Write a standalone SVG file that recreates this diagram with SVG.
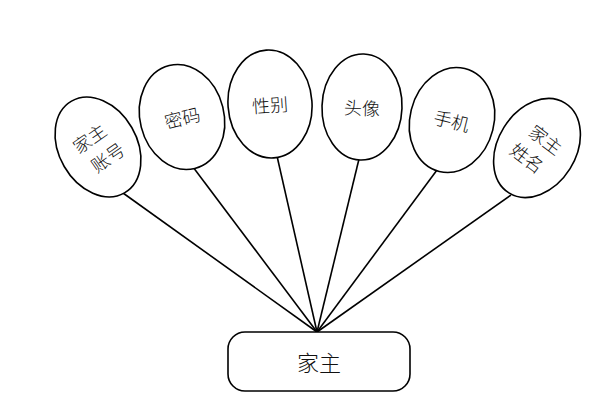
<svg xmlns="http://www.w3.org/2000/svg" width="608" height="411" viewBox="0 0 608 411">
<style>
.e{fill:#fff;stroke:#000;stroke-width:1.6}
.c{stroke:#000;stroke-width:1.6;fill:none}
.t{font-family:"Noto Sans CJK SC","Noto Sans",sans-serif;font-size:18px;font-weight:300;fill:#111;text-anchor:middle;dominant-baseline:central}
.b{font-size:22px}
</style>
<rect width="608" height="411" fill="#fff"/>
<g id="connectors">
<line class="c" x1="123" y1="193" x2="317" y2="332"/>
<line class="c" x1="193" y1="167" x2="317" y2="332"/>
<line class="c" x1="277" y1="156" x2="317" y2="332"/>
<line class="c" x1="359" y1="159" x2="317" y2="332"/>
<line class="c" x1="437" y1="170" x2="317" y2="332"/>
<line class="c" x1="511" y1="195" x2="317" y2="332"/>
</g>
<g id="n1" transform="translate(98,147) rotate(-30)">
<ellipse class="e" cx="0" cy="0" rx="39" ry="53"/>
<text class="t" transform="rotate(-5)"><tspan x="-2" y="-13">家主</tspan><tspan x="2" y="13">账号</tspan></text>
</g>
<g id="n2" transform="translate(182,117) rotate(-14)">
<ellipse class="e" cx="0" cy="0" rx="42" ry="53"/>
<text class="t" x="0" y="0">密码</text>
</g>
<g id="n3" transform="translate(270,104) rotate(-4)">
<ellipse class="e" cx="0" cy="0" rx="42" ry="54"/>
<text class="t" x="0" y="0">性别</text>
</g>
<g id="n4" transform="translate(362,107) rotate(2)">
<ellipse class="e" cx="0" cy="0" rx="40" ry="53"/>
<text class="t" x="0" y="0">头像</text>
</g>
<g id="n5" transform="translate(452,120) rotate(14)">
<ellipse class="e" cx="0" cy="0" rx="42" ry="53"/>
<text class="t" x="0" y="0">手机</text>
</g>
<g id="n6" transform="translate(537,148) rotate(32)">
<ellipse class="e" cx="0" cy="0" rx="39" ry="53"/>
<text class="t" transform="rotate(5)"><tspan x="2" y="-13">家主</tspan><tspan x="-2" y="13">姓名</tspan></text>
</g>
<g id="n0">
<rect class="e" x="228" y="332" width="182" height="59" rx="17"/>
<text class="t b" x="319" y="361">家主</text>
</g>
</svg>
